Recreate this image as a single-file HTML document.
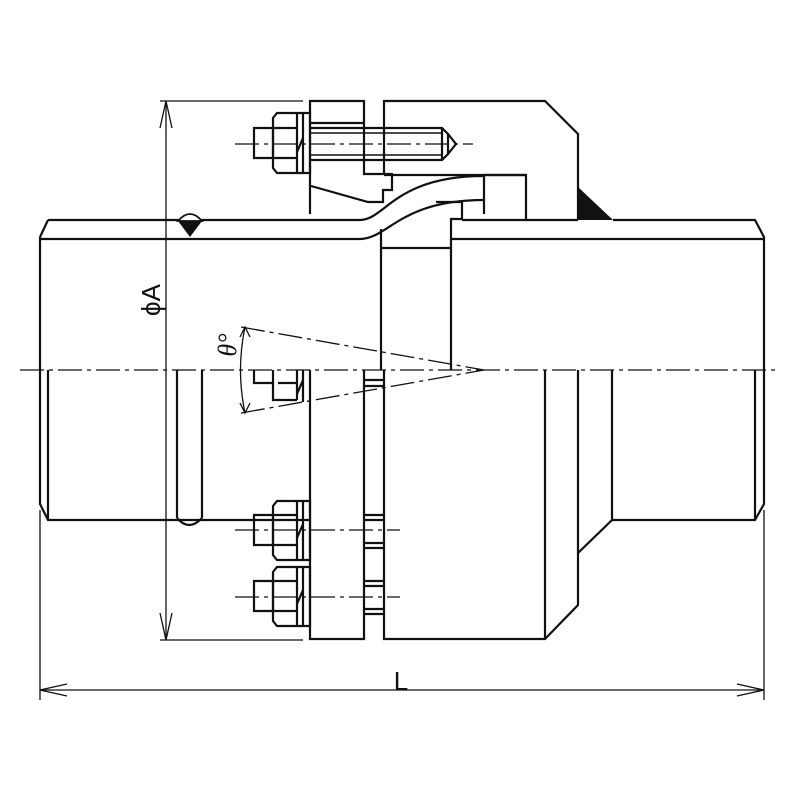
<!DOCTYPE html>
<html><head><meta charset="utf-8"><style>
html,body{margin:0;padding:0;background:#fff;}
svg{display:block}
</style></head><body>
<svg width="800" height="800" viewBox="0 0 800 800" xmlns="http://www.w3.org/2000/svg">
<g fill="none" stroke="#111" stroke-width="2.2" stroke-linejoin="miter">
<!-- left pipe -->
<path d="M48,220 H360 C385,220 395,176 484,176"/>
<path d="M40,237 L48,220"/>
<path d="M40,237 V504 L48,520 H310"/>
<path d="M40,239 H360 C388,239 400,200 484,200"/>
<line x1="48" y1="370" x2="48" y2="520"/>
<line x1="177" y1="370" x2="177" y2="518"/>
<line x1="202" y1="370" x2="202" y2="518"/>
<path d="M177,518 Q189,532 202,518"/>
<!-- right pipe -->
<path d="M613,220 H755 L764,237 V504 L755,520 H612"/>
<path d="M451,239 H764"/>
<path d="M462,220 H578"/>
<line x1="755" y1="370" x2="755" y2="520"/>
<!-- right body -->
<path d="M384,175 V101 H545 L578,134 V220"/>
<line x1="384" y1="175" x2="526" y2="175"/>
<path d="M384,370 V639 H545 L578,605 V370"/>
<line x1="545" y1="370" x2="545" y2="639"/>
<path d="M612,370 V520 L578,553"/>
<path d="M484,175 H526 V220"/>
<line x1="484" y1="175" x2="484" y2="214"/>
<path d="M436,202 H462 V219 H451 V370"/>
<line x1="381" y1="229" x2="381" y2="370"/>
<line x1="381" y1="248" x2="451" y2="248"/>
<!-- left flange -->
<path d="M310,214 V101 H364 V174 H392 V190 H383 V202 H368 L311,186"/>
<line x1="310" y1="123" x2="364" y2="123"/>
<path d="M310,370 V639 H364 V370"/>
<!-- top bolt -->
<path d="M254,128 H273 V158 H254 Z"/>
<path d="M277,113 H310 V173 H277 L273,168 V118 Z"/>
<line x1="273" y1="128" x2="297" y2="128"/>
<line x1="273" y1="158" x2="297" y2="158"/>
<line x1="297" y1="113" x2="297" y2="173"/>
<line x1="303" y1="113" x2="303" y2="173"/>
<path d="M310,128 H442 L448,134 V154 L442,160 H310"/>
<path d="M448,134 L456,144 L448,154"/>
<line x1="310" y1="133" x2="442" y2="133" stroke-width="1.5"/>
<line x1="310" y1="155" x2="442" y2="155" stroke-width="1.5"/>
<line x1="442" y1="128" x2="442" y2="160"/>
<line x1="297" y1="152" x2="303" y2="138"/>
<!-- centre small nut -->
<path d="M254,370 V383 H273 M273,370 V400 H297 M297,370 V400 M303,370 V402 M278,383 H297"/>
<line x1="297" y1="394" x2="303" y2="380"/>
<!-- bottom bolts -->
<g id="b1">
<path d="M254,515 H273 V545 H254 Z"/>
<path d="M277,501 H310 V560 H277 L273,555 V506 Z"/>
<line x1="273" y1="515" x2="297" y2="515"/>
<line x1="273" y1="545" x2="297" y2="545"/>
<line x1="297" y1="501" x2="297" y2="560"/>
<line x1="303" y1="501" x2="303" y2="560"/>
<line x1="297" y1="538" x2="303" y2="524"/>
<path d="M364,515 H384 M364,520 H384 M364,543 H384 M364,548 H384"/>
</g>
<use href="#b1" transform="translate(0,66)"/>
<path d="M364,380 H384 M364,386 H384"/>
<!-- dimensions -->
<g stroke-width="1.3">
<line x1="166" y1="101" x2="166" y2="640"/>
<line x1="160" y1="101" x2="303" y2="101"/>
<line x1="160" y1="640" x2="303" y2="640"/>
<path d="M160,128 L166,101 L172,128 M160,613 L166,640 L172,613"/>
<line x1="40" y1="510" x2="40" y2="700"/>
<line x1="764" y1="510" x2="764" y2="700"/>
<line x1="40" y1="690" x2="764" y2="690"/>
<path d="M67,684 L40,690 L67,696 M737,684 L764,690 L737,696"/>
<path d="M245,327 Q236,370 245,413" />
<path d="M240,337 L245,327 L250,337 M240,403 L245,413 L250,403"/>
<g stroke-dasharray="24,5,4,5">
<line x1="241" y1="327" x2="484" y2="370"/>
<line x1="241" y1="413" x2="484" y2="370"/>
<line x1="20" y1="370" x2="780" y2="370"/>
<line x1="235" y1="144" x2="473" y2="144"/>
<line x1="235" y1="530" x2="400" y2="530"/>
<line x1="235" y1="597" x2="400" y2="597"/>
</g>
</g>
</g>
<!-- weld symbols -->
<path d="M178,221 Q190,207 202,221 Z" fill="#fff" stroke="#111" stroke-width="1.8"/>
<path d="M178,221 L202,221 L190,237 Z" fill="#111"/>
<path d="M578,187 L613,220 L578,220 Z" fill="#111"/>
<!-- texts -->
<text x="0" y="0" transform="translate(160,300) rotate(-90)" font-family="Liberation Sans, sans-serif" font-size="26" text-anchor="middle" fill="#111">ϕA</text>
<text x="0" y="0" transform="translate(236,345) rotate(-90)" font-family="Liberation Serif, serif" font-style="italic" font-size="26" text-anchor="middle" fill="#111">θ°</text>
<text x="401" y="690" font-family="Liberation Sans, sans-serif" font-size="26" text-anchor="middle" fill="#111">L</text>
</svg>
</body></html>
